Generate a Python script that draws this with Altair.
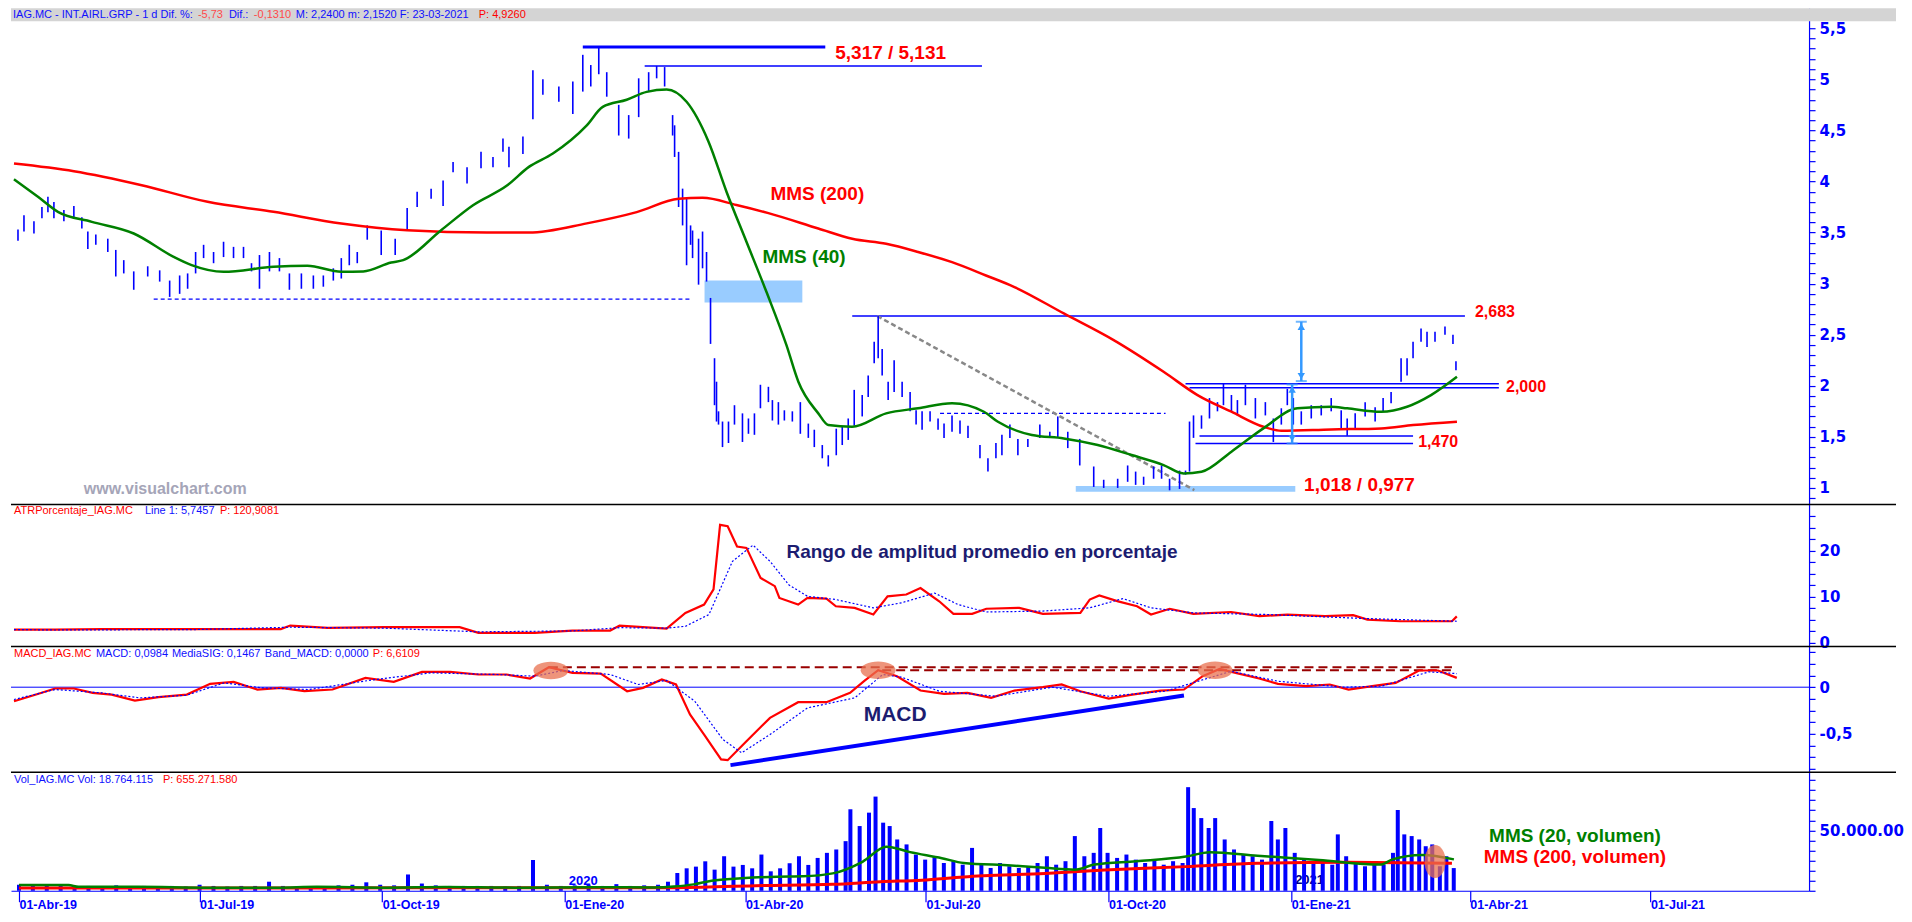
import altair as alt
import pandas as pd

BASE = pd.Timestamp("2019-04-01")   # day offsets below are counted from this date

# ---------------- price bars (day offset, high, low) ----------------
bar_day = [2,5,10,14,17,20,25,30,34,37,41,47,51,55,60,67,73,78,83,87,91,95,100,105,110,115,119,123,128,133,
           138,144,150,155,160,164,168,172,177,184,191,197,202,209,215,220,227,234,240,245,
           248,255,260,265,273,280,285,289,293,297,303,308,313,318,322,326,330,331,333,335,337,339,340,343,345,347,
           349,351,352,353,355,358,361,365,368,371,374,378,380,383,386,390,394,398,401,405,408,412,415,418,
           421,425,428,431,433,435,438,441,445,449,452,455,459,463,466,470,474,
           478,484,488,492,495,499,503,508,514,519,523,528,534,541,546,553,558,562,566,571,
           575,579,584,587,589,591,595,599,603,606,610,613,617,622,627,631,635,638,641,645,
           650,655,660,665,668,672,677,682,686,690,695,698,701,705,708,712,717,721,722.5]
bar_high = [3.53,3.67,3.61,3.75,3.85,3.80,3.72,3.76,3.65,3.51,3.48,3.44,3.33,3.23,3.12,3.17,3.13,3.03,3.08,3.10,
            3.31,3.38,3.31,3.41,3.36,3.36,3.20,3.28,3.31,3.25,3.10,3.10,3.08,3.08,3.15,3.25,3.38,3.31,3.57,3.52,
            3.44,3.74,3.90,3.93,4.01,4.19,4.14,4.29,4.24,4.42,
            4.34,4.44,5.09,5.00,4.93,4.98,5.24,5.14,5.317,5.07,4.75,4.65,5.01,5.07,5.131,5.12,4.65,4.55,4.29,3.93,
            3.83,3.57,3.52,3.44,3.51,3.31,2.86,2.27,2.04,1.75,1.65,1.65,1.81,1.73,1.68,1.73,2.01,1.99,1.86,1.84,
            1.76,1.75,1.84,1.63,1.57,1.42,1.32,1.58,1.60,1.68,1.96,1.91,2.10,2.43,2.683,2.36,2.04,2.25,2.04,1.94,
            1.76,1.75,1.75,1.68,1.63,1.71,1.66,
            1.61,1.42,1.29,1.44,1.52,1.62,1.48,1.48,1.62,1.55,1.70,1.55,1.48,1.21,1.08,1.09,1.22,1.16,1.11,1.21,
            1.22,1.09,1.17,1.17,1.65,1.71,1.71,1.88,1.84,2.02,1.91,1.86,2.01,1.88,1.84,1.68,1.78,1.97,1.88,1.75,
            1.81,1.81,1.88,1.76,1.68,1.73,1.84,1.79,1.88,1.94,2.27,2.27,2.43,2.56,2.53,2.53,2.58,2.50,2.24]
bar_low = [3.42,3.51,3.49,3.64,3.70,3.64,3.61,3.65,3.54,3.34,3.38,3.31,3.07,3.10,2.94,3.07,3.02,2.87,2.90,2.95,
           3.10,3.25,3.20,3.26,3.25,3.25,3.12,2.95,3.12,3.12,2.94,2.95,2.95,2.97,3.03,3.05,3.18,3.20,3.43,3.28,
           3.28,3.52,3.75,3.83,3.76,4.09,3.98,4.13,4.14,4.29,
           4.14,4.27,4.61,4.85,4.78,4.66,4.88,4.93,5.05,4.83,4.45,4.42,4.63,4.88,5.01,4.93,4.45,4.24,3.75,3.57,
           3.18,3.38,3.25,2.99,3.15,3.02,2.41,1.81,1.65,1.62,1.40,1.44,1.62,1.45,1.53,1.52,1.78,1.84,1.66,1.62,
           1.66,1.65,1.53,1.49,1.40,1.29,1.21,1.32,1.42,1.47,1.61,1.70,1.89,2.22,2.27,2.10,1.86,1.94,1.89,1.75,
           1.62,1.57,1.65,1.57,1.49,1.55,1.53,
           1.49,1.29,1.16,1.29,1.32,1.49,1.32,1.40,1.49,1.49,1.49,1.39,1.22,1.01,1.00,1.00,1.06,1.03,1.03,1.09,
           1.09,0.977,0.99,1.13,1.16,1.49,1.58,1.68,1.75,1.81,1.75,1.71,1.81,1.68,1.71,1.45,1.62,1.81,1.62,1.62,
           1.68,1.71,1.75,1.58,1.51,1.58,1.70,1.65,1.75,1.83,2.04,2.10,2.27,2.43,2.38,2.43,2.50,2.41,2.152]

# ---------------- moving averages on price ----------------
mms200_day = [0,30,64,97,130,164,197,237,258,287,312,333,345,362,378,403,420,437,453,470,487,501,526,551,576,593,610,626,635,660,685,701,723]
mms200 = [4.176,4.101,3.964,3.801,3.703,3.589,3.523,3.50,3.50,3.59,3.70,3.83,3.84,3.77,3.69,3.54,3.44,3.39,3.31,3.21,3.08,2.969,2.708,2.447,2.137,1.909,1.746,1.599,1.560,1.573,1.583,1.615,1.648]
mms40_day = [0,12,22,39,60,80,89,105,130,147,164,175,189,195,214,230,247,258,270,287,295,307,317,327,337,348,357,367,377,387,393,403,408,420,437,453,470,486,493,510,526,543,560,576,586,595,610,626,643,660,668,685,698,710,723]
mms40 = [4.022,3.85,3.703,3.605,3.491,3.262,3.181,3.116,3.165,3.175,3.116,3.12,3.207,3.23,3.523,3.768,3.96,4.143,4.274,4.55,4.73,4.80,4.877,4.90,4.78,4.39,3.90,3.41,2.92,2.40,2.04,1.73,1.616,1.60,1.73,1.78,1.83,1.746,1.648,1.518,1.485,1.42,1.322,1.224,1.142,1.159,1.355,1.583,1.779,1.795,1.779,1.746,1.795,1.909,2.088]

# ---------------- ATR % ----------------
atr_day = [0,20.6,44.1,67.7,91.3,114.8,133.7,138.4,157.3,185.5,223.3,232.7,261,279.8,298.7,303.4,327,336.4,345.8,350.5,
           353.8,357.6,362.3,367,374.1,381.2,383.5,392.9,397.6,407.1,411.8,421.2,430.6,437.7,447.1,454.2,463.6,470.7,480.1,487.2,
           503.7,515.5,534.3,539,543.8,553.2,562.7,569.7,579.1,590.9,609.8,623.9,638,656.9,671,678.1,694.6,720.5,722.9]
atr = [2.9,2.9,3.0,3.0,3.0,3.0,3.0,3.76,3.25,3.4,3.4,2.17,2.17,2.68,2.68,3.76,3.1,6.5,8.3,11.6,
       25.6,25.3,20.9,20.6,14.1,12.3,9.75,8.3,9.75,9.6,7.95,7.6,6.15,10.1,10.5,11.9,9.03,6.3,6.3,7.4,
       7.6,6.3,6.5,9.4,10.3,9.0,7.95,6.15,7.4,6.3,6.7,5.8,6.15,5.8,6.0,5.06,4.7,4.7,5.75]
atr_sig_day = [0,20.6,91.3,138.4,185.5,232.7,279.8,303.4,327,336.4,348.2,360,370.3,378.8,388.2,397.6,411.8,430.6,444.8,461.3,
               473.1,487.2,515.5,539,555.6,569.7,590.9,628.6,675.8,722.9]
atr_sig = [2.9,2.8,2.9,3.4,3.2,2.4,2.6,3.3,3.2,3.6,6.15,17.7,21.2,17.7,12.6,10.1,9.4,7.6,8.7,10.8,
           8.3,6.7,6.9,7.6,9.6,7.6,6.5,6.15,5.3,4.7]

# ---------------- MACD ----------------
macd_day = [0,11.1,20.6,30,39.4,48.9,60.6,72.4,86.6,98.3,110.1,121.9,133.7,145.5,159.6,176.1,190.3,204.4,218.5,232.7,
            246.8,258.6,268,279.8,294,307.2,315.2,324.6,331.7,338.7,345.8,354.3,357.6,367,378.8,392.9,407.1,418.9,425.9,433,
            442.4,454.2,466,477.8,489.6,501.3,515.5,524.9,534.3,548.5,560.3,574.4,586.2,595.6,604.1,612.1,623.9,633.3,647.5,659.3,
            668.7,680.5,692.3,704,713.5,722.9]
macd = [-0.150,-0.079,-0.014,-0.014,-0.061,-0.079,-0.143,-0.107,-0.079,0.036,0.057,-0.025,-0.007,-0.043,-0.025,0.100,0.057,0.164,0.164,0.136,
        0.136,0.093,0.214,0.154,0.146,-0.043,-0.007,0.082,0.029,-0.293,-0.508,-0.775,-0.783,-0.579,-0.329,-0.161,-0.161,-0.061,0.064,0.182,
        0.118,-0.036,-0.072,-0.061,-0.115,-0.036,0.0,0.029,-0.043,-0.122,-0.079,-0.036,-0.025,0.118,0.196,0.154,0.093,0.036,0.011,0.029,
        -0.025,0.011,0.046,0.179,0.179,0.100]
macd_sig_day = [0,20.6,44.1,63,86.6,105.4,124.3,147.8,180.8,209.1,242.1,261,275.1,298.7,312.8,327,341.1,355.2,364.6,378.8,
                397.6,421.2,435.3,444.8,463.6,491.9,520.2,548.5,576.8,609.8,633.3,666.3,685.2,708.8,722.9]
macd_sig = [-0.132,-0.025,-0.061,-0.115,-0.086,0.047,-0.007,-0.025,0.082,0.154,0.136,0.118,0.179,0.136,0.029,0.072,-0.150,-0.561,-0.704,-0.508,
            -0.222,-0.115,0.136,0.107,-0.043,-0.097,0.0,-0.097,-0.043,0.171,0.064,0.0,0.011,0.164,0.146]

# ---------------- Volume (thousands of shares) ----------------
vol_day = [0,7,14,21,28,35,42,49,56,63,70,77,84,91,98,105,112,119,126,133,140,147,154,161,168,175,182,189,196,203,
           210,217,224,231,238,245,252,259,266,273,280,287,294,301,308,315,322,
           327,331.7,336.4,341.1,345.8,350.5,355.3,360,364.7,369.4,374.1,378.8,383.5,388.3,393,397.7,402.4,407.1,411.8,416.5,
           418.9,423.6,428.3,431.6,435.4,438.7,442.5,447.2,451.9,456.6,461.3,466,470.8,475.5,480.2,484.9,489.6,494.3,499,503.8,
           508.5,513.2,517.9,522.6,527.3,532,536.8,541.5,544.8,548.5,553.3,558,562.7,567.4,572.1,576.8,581.5,586.3,589.1,591.9,
           595.7,599.4,602.7,607.5,612.2,616.9,621.6,626.3,631,634.3,638.1,642.8,647.5,652.2,656.9,661.7,664.5,668.7,673.5,678.2,
           682.9,687.6,692.3,694.7,698,701.7,705.5,708.8,712.1,715.9,719.2,722.9]
vol = [5,4.5,4,4,3.5,4,3.5,4.5,3.5,4,3.5,4,3.5,5,4,3.5,4,4,7.5,4,3.5,3.5,3.5,4.5,5,7,5,4.5,13.5,6,
       4.5,4,4,4,4,3.5,4,25.5,5,4,4.5,5,4,5.5,4,4.5,5,
       7.5,14.7,18.6,20,24.4,17.5,28.6,20,21.4,18.6,30,16.1,18.6,22.8,28.6,21.4,27.2,31.4,34.2,41.1,
       67.5,53.6,64.7,78,56.4,53.6,42.5,38.4,30,25.8,28.6,23,24.5,21.6,35.5,21.6,18.9,23,20.3,18.9,
       20.3,23,28.6,21.6,24.5,45.3,28.6,31.4,52,31.4,27.2,30,25.8,23,25.8,21.6,24.5,23,85.8,68.5,
       60.2,52,60.2,42.5,34.2,30,28.6,25.8,57.8,42.5,52,31.4,25.8,23,24.5,21.6,46.7,28.6,24.5,20.3,
       23,21.6,31.4,66.9,46.7,45.3,42.5,36.9,38.4,20.3,28.6,18.8]
vma20_day = [0,25,30,60,95,130,150,185,215,250,290,320,330,340,349,364,382,395,410,425,437,449,465,476,500,517,532,542,563,588,600,624,655,686,692,707,723]
vma20 = [4.7,4.7,3.3,3.3,2.6,2.6,3.3,2.6,3.2,2.6,3.0,2.8,3.5,5.3,8.3,10.3,11.7,12.0,14.4,24,36.5,32,27,23,21,19,17.5,21.7,24.4,28.3,32,29,25.5,21.7,26,29.7,26]
vma200_day = [0,100,200,330,371,410,434,455,476,517,547,588,624,670,722]
vma200 = [2.2,2.2,2.5,2.5,4.2,5.3,7.5,8.8,11.5,14.4,17.2,20,22.8,23.6,22.8]

# ---------------- annotations (days, values) ----------------
hl_thick = {"d1": [285], "d2": [406.5], "v": [5.317]}
hl_thin = {"d1": [316, 420, 587, 589, 594, 592], "d2": [485, 727, 744, 744, 701, 701],
           "v": [5.131, 2.683, 2.020, 1.981, 1.508, 1.436]}
hl_dash = {"d1": [70, 464], "d2": [339, 577], "v": [2.848, 1.730]}
trend = {"d1": [432.5], "d2": [591.4], "v1": [2.683], "v2": [0.979]}
boxes = {"d1": [346, 532], "d2": [395, 642], "top": [3.03, 1.019], "bot": [2.815, 0.963]}
arrows = {"day": [645, 640.4], "top": [2.627, 2.013], "bot": [2.046, 1.436]}
macd_dash = {"d1": [268, 435], "d2": [720.5, 720.5], "v": [0.214, 0.182]}
macd_trend = {"d1": [359], "d2": [586.2], "v1": [-0.836], "v2": [-0.089]}
macd_marks = {"day": [269, 433, 601.8], "v": [0.179, 0.182, 0.182]}
vol_marks = {"day": [713.5], "v": [24.2]}

# ---------------- styling ----------------
FONT = "Liberation Sans"
AXFONT = "DejaVu Sans"
BLUE = "#0000ff"
TXTBLUE = "#1010ff"
RED = "#ff0000"
GREEN = "#008000"
NAVY = "#1c1c70"
CYAN = "#3399ff"
ORANGE = "#e8704f"
W = 1799
H_P, H_A, H_M, H_V = 496, 142, 126, 119
FULLW = 1886
HDR = 11

XS = alt.Scale(domain=[alt.DateTime(year=2019, month=3, date=30, hours=12),
                       alt.DateTime(year=2021, month=9, date=16, hours=10)])

QTR = [alt.DateTime(year=y, month=m, date=1) for (y, m) in
       [(2019, 4), (2019, 7), (2019, 10), (2020, 1), (2020, 4), (2020, 7), (2020, 10), (2021, 1), (2021, 4), (2021, 7)]]
X_AXIS = alt.Axis(orient="bottom", title=None, values=QTR,
                  labelExpr="' 01-' + ['Ene','Feb','Mar','Abr','May','Jun','Jul','Ago','Sep','Oct','Nov','Dic'][month(datum.value)] + '-' + timeFormat(datum.value, '%y')",
                  tickSize=11, labelAlign="left", labelBaseline="middle", labelPadding=3,
                  labelFont=FONT, labelFontSize=12.5, labelFlush=False, labelOverlap=False)

# panel contexts: (y scale, y axis, x axis)
P_CTX = (alt.Scale(domain=[0.843, 5.696], nice=False, zero=False),
         alt.Axis(orient="right", title=None, values=[round(0.9 + 0.1 * i, 1) for i in range(48)],
                  labelExpr="round(datum.value*10) % 5 == 0 ? replace(format(datum.value, '.1~f'), '.', ',') : ''"),
         None)
A_CTX = (alt.Scale(domain=[-0.65, 30.12], nice=False, zero=False),
         alt.Axis(orient="right", title=None, values=[i * 2.5 for i in range(12)],
                  labelExpr="datum.value % 10 == 0 ? format(datum.value, 'd') : ''"),
         None)
M_CTX = (alt.Scale(domain=[-0.908, 0.443], nice=False, zero=False),
         alt.Axis(orient="right", title=None, values=[-0.875 + 0.125 * i for i in range(11)],
                  labelExpr="datum.value == 0 ? '0' : (datum.value == -0.5 ? '-0,5' : '')"),
         None)
V_CTX = (alt.Scale(domain=[0, 98.5], nice=False, zero=False),
         alt.Axis(orient="right", title=None, values=[i * 50 / 6 for i in range(12)],
                  labelExpr="datum.value == 50 ? '50.000.00' : ''"),
         X_AXIS)


def to_dates(days):
    return [BASE + pd.Timedelta(hours=round(float(d) * 24)) for d in days]


def XE(ctx, field="date"):
    return alt.X(f"{field}:T", scale=XS, axis=ctx[2])


def YE(ctx, field):
    return alt.Y(f"{field}:Q", scale=ctx[0], axis=ctx[1])


def line(ctx, days, vals, color, width, dash=None, interp="linear"):
    df = pd.DataFrame({"date": to_dates(days), "v": vals})
    kw = dict(color=color, strokeWidth=width, interpolate=interp)
    if dash:
        kw["strokeDash"] = dash
    return alt.Chart(df).mark_line(**kw).encode(x=XE(ctx), y=YE(ctx, "v"))


def hsegs(ctx, spec, color, width, dash=None):
    df = pd.DataFrame({"date": to_dates(spec["d1"]), "date2": to_dates(spec["d2"]), "v": spec["v"]})
    kw = dict(color=color, strokeWidth=width)
    if dash:
        kw["strokeDash"] = dash
    return alt.Chart(df).mark_rule(**kw).encode(x=XE(ctx), x2="date2:T", y=YE(ctx, "v"))


def slope(ctx, spec, color, width, dash=None):
    df = pd.DataFrame({"date": to_dates(spec["d1"]), "date2": to_dates(spec["d2"]),
                       "v": spec["v1"], "v2": spec["v2"]})
    kw = dict(color=color, strokeWidth=width)
    if dash:
        kw["strokeDash"] = dash
    return alt.Chart(df).mark_rule(**kw).encode(x=XE(ctx), x2="date2:T", y=YE(ctx, "v"), y2="v2:Q")


def dlabel(ctx, day, val, text, color, size, align="left", weight="bold"):
    df = pd.DataFrame({"date": to_dates([day]), "v": [val]})
    return alt.Chart(df).mark_text(text=text, align=align, baseline="middle", color=color,
                                   fontSize=size, font=FONT, fontWeight=weight).encode(x=XE(ctx), y=YE(ctx, "v"))


def ptext(x, y, text, color, size=HDR):
    return alt.Chart(alt.Data(values=[{}])).mark_text(
        text=text, align="left", baseline="middle", color=color, fontSize=size, font=FONT
    ).encode(x=alt.value(x), y=alt.value(y))


def separator():
    return alt.Chart(alt.Data(values=[{}])).mark_rule(color="black", strokeWidth=1.5).encode(
        x=alt.value(0), x2=alt.value(FULLW), y=alt.value(0.5))


def ellipse(ctx, spec, path, size):
    df = pd.DataFrame({"date": to_dates(spec["day"]), "v": spec["v"]})
    return alt.Chart(df).mark_point(shape=path, size=size, filled=True, color=ORANGE,
                                    opacity=0.75, strokeWidth=0).encode(x=XE(ctx), y=YE(ctx, "v"))


# ---------------- PRICE PANEL ----------------
df_bars = pd.DataFrame({"date": to_dates(bar_day), "hi": bar_high, "lo": bar_low})
bars = alt.Chart(df_bars).mark_rule(color=BLUE, strokeWidth=1.6).encode(
    x=XE(P_CTX), y=YE(P_CTX, "hi"), y2="lo:Q")

df_boxes = pd.DataFrame({"date": to_dates(boxes["d1"]), "date2": to_dates(boxes["d2"]),
                         "top": boxes["top"], "bot": boxes["bot"]})
box_layer = alt.Chart(df_boxes).mark_rect(color="#99ccff").encode(
    x=XE(P_CTX), x2="date2:T", y=YE(P_CTX, "top"), y2="bot:Q")

df_arr = pd.DataFrame({"date": to_dates(arrows["day"]), "top": arrows["top"], "bot": arrows["bot"]})
arr = alt.Chart(df_arr)
arrow_layers = [
    arr.mark_rule(color=CYAN, strokeWidth=2.5).encode(x=XE(P_CTX), y=YE(P_CTX, "top"), y2="bot:Q"),
    arr.mark_tick(color=CYAN, orient="horizontal", size=11, thickness=2).encode(x=XE(P_CTX), y=YE(P_CTX, "top")),
    arr.mark_tick(color=CYAN, orient="horizontal", size=11, thickness=2).encode(x=XE(P_CTX), y=YE(P_CTX, "bot")),
    arr.mark_point(shape="triangle-up", filled=True, size=55, color=CYAN, opacity=1, yOffset=5).encode(
        x=XE(P_CTX), y=YE(P_CTX, "top")),
    arr.mark_point(shape="triangle-down", filled=True, size=55, color=CYAN, opacity=1, yOffset=-5).encode(
        x=XE(P_CTX), y=YE(P_CTX, "bot")),
]

header_rect = alt.Chart(alt.Data(values=[{}])).mark_rect(color="#d4d4d4").encode(
    x=alt.value(0), x2=alt.value(FULLW), y=alt.value(0), y2=alt.value(13))

price = alt.layer(
    box_layer,
    hsegs(P_CTX, hl_dash, BLUE, 1.3, [4, 3]),
    hsegs(P_CTX, hl_thick, BLUE, 3),
    hsegs(P_CTX, hl_thin, BLUE, 1.5),
    slope(P_CTX, trend, "#888888", 2.5, [5, 3]),
    bars,
    line(P_CTX, mms200_day, mms200, RED, 2.5, interp="monotone"),
    line(P_CTX, mms40_day, mms40, GREEN, 2.5, interp="monotone"),
    *arrow_layers,
    dlabel(P_CTX, 411.5, 5.255, "5,317 / 5,131", RED, 19),
    dlabel(P_CTX, 379, 3.88, "MMS (200)", RED, 19),
    dlabel(P_CTX, 375, 3.264, "MMS (40)", GREEN, 19),
    dlabel(P_CTX, 732, 2.72, "2,683", RED, 16),
    dlabel(P_CTX, 747.6, 1.99, "2,000", RED, 16),
    dlabel(P_CTX, 703.6, 1.452, "1,470", RED, 16),
    dlabel(P_CTX, 646.4, 1.028, "1,018 / 0,977", RED, 19),
    dlabel(P_CTX, 35, 0.99, "www.visualchart.com", "#a5a5b8", 16),
    header_rect,
    ptext(2, 6.5, "IAG.MC - INT.AIRL.GRP - 1 d Dif. %:", TXTBLUE),
    ptext(187, 6.5, "-5,73", "#ff4a4a"),
    ptext(218, 6.5, "Dif.:", TXTBLUE),
    ptext(243, 6.5, "-0,1310", "#ff4a4a"),
    ptext(285, 6.5, "M: 2,2400  m: 2,1520  F: 23-03-2021", TXTBLUE),
    ptext(468, 6.5, "P: 4,9260", RED),
).properties(width=W, height=H_P)

# ---------------- ATR PANEL ----------------
atr_panel = alt.layer(
    line(A_CTX, atr_day, atr, RED, 2.2),
    line(A_CTX, atr_sig_day, atr_sig, BLUE, 1.2, [2, 2]),
    dlabel(A_CTX, 485, 19.8, "Rango de amplitud promedio en porcentaje", NAVY, 19, align="center"),
    separator(),
    ptext(3, 7, "ATRPorcentaje_IAG.MC", RED),
    ptext(134, 7, "Line 1: 5,7457", TXTBLUE),
    ptext(209, 7, "P: 120,9081", RED),
).properties(width=W, height=H_A)

# ---------------- MACD PANEL ----------------
zero_line = alt.Chart(pd.DataFrame({"v": [0.0]})).mark_rule(color=BLUE, strokeWidth=1).encode(
    y=YE(M_CTX, "v"), x=alt.value(0), x2=alt.value(W))
H_ELL = "M -1 0 A 1 0.5 0 1 1 1 0 A 1 0.5 0 1 1 -1 0 Z"
V_ELL = "M 0 -1 A 0.64 1 0 1 1 0 1 A 0.64 1 0 1 1 0 -1 Z"
macd_panel = alt.layer(
    zero_line,
    hsegs(M_CTX, macd_dash, "#990000", 1.8, [9, 5]),
    line(M_CTX, macd_day, macd, RED, 2.2),
    line(M_CTX, macd_sig_day, macd_sig, BLUE, 1.2, [2, 2]),
    slope(M_CTX, macd_trend, BLUE, 4),
    ellipse(M_CTX, macd_marks, H_ELL, 1225),
    dlabel(M_CTX, 441.5, -0.297, "MACD", NAVY, 21, align="center"),
    separator(),
    ptext(3, 8, "MACD_IAG.MC", RED),
    ptext(85, 8, "MACD: 0,0984", TXTBLUE),
    ptext(161, 8, "MediaSIG: 0,1467", TXTBLUE),
    ptext(254, 8, "Band_MACD: 0,0000", TXTBLUE),
    ptext(362, 8, "P: 6,6109", RED),
).properties(width=W, height=H_M)

# ---------------- VOLUME PANEL ----------------
df_vol = pd.DataFrame({"date": to_dates(vol_day), "v": vol})
vol_bars = alt.Chart(df_vol).mark_bar(color=BLUE, size=4).encode(x=XE(V_CTX), y=YE(V_CTX, "v"))
vol_panel = alt.layer(
    dlabel(V_CTX, 643, 9.0, "2021", "#000080", 13),
    vol_bars,
    line(V_CTX, vma200_day, vma200, RED, 3, interp="monotone"),
    line(V_CTX, vma20_day, vma20, GREEN, 2.5, interp="monotone"),
    ellipse(V_CTX, vol_marks, V_ELL, 1089),
    dlabel(V_CTX, 277, 7.7, "2020", BLUE, 13),
    dlabel(V_CTX, 784, 45.2, "MMS (20, volumen)", GREEN, 19, align="center"),
    dlabel(V_CTX, 784, 27.8, "MMS (200, volumen)", RED, 19, align="center"),
    separator(),
    ptext(3, 8, "Vol_IAG.MC Vol: 18.764.115", TXTBLUE),
    ptext(152, 8, "P: 655.271.580", RED),
).properties(width=W, height=H_V)

chart = alt.vconcat(price, atr_panel, macd_panel, vol_panel, spacing=0).properties(
    padding=0, bounds="flush", background="white"
).configure_view(
    strokeWidth=0
).configure_axis(
    grid=False, domainColor=BLUE, tickColor=BLUE, labelColor=BLUE, labelFont=AXFONT,
    labelFontWeight="bold", labelFontSize=15, tickSize=6, labelPadding=4,
    domainWidth=1.2, tickWidth=1.2
)

chart.save("out.html", embed_options={"renderer": "svg", "actions": False})
